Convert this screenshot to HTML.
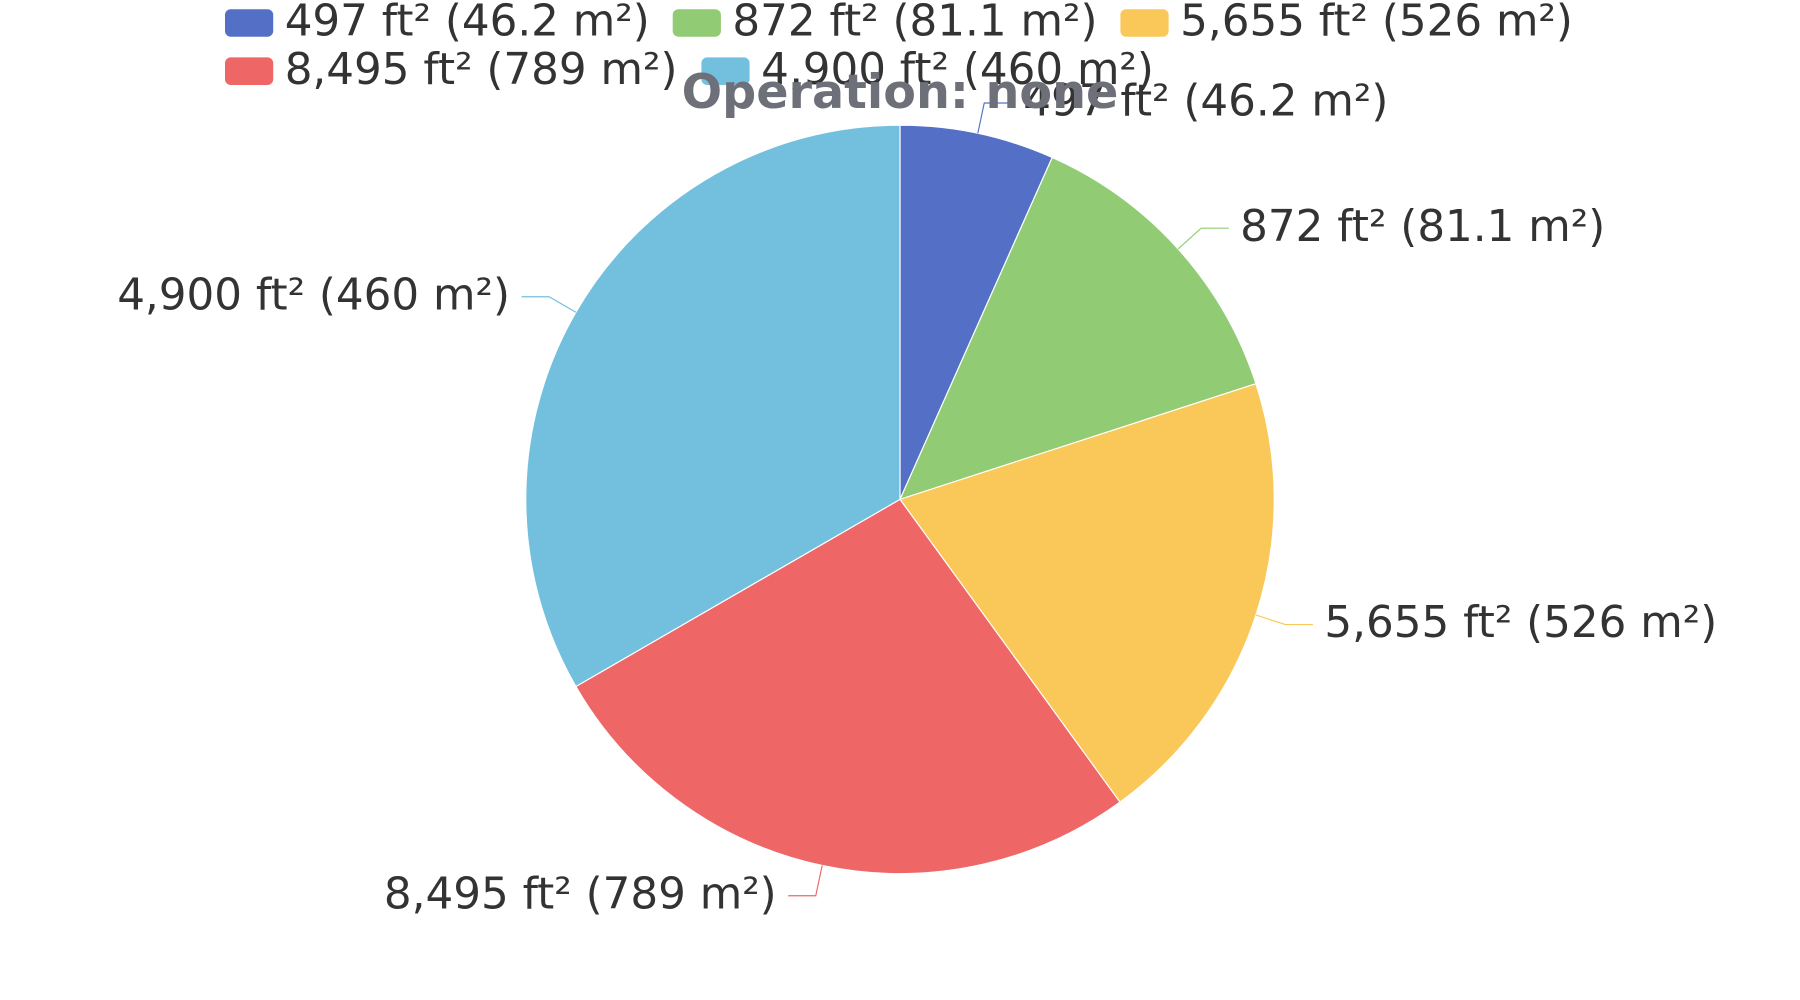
<!DOCTYPE html>
<html><head><meta charset="utf-8"><style>
html,body{margin:0;padding:0;background:#fff;width:1800px;height:1000px;overflow:hidden}
svg text{font-family:"DejaVu Sans","Liberation Sans",sans-serif}
</style></head><body>
<svg id="chart" width="1800" height="1000" viewBox="0 0 1568 871.1" xmlns="http://www.w3.org/2000/svg">
<g id="legend"></g>
<g id="slices"></g>
<g id="labels"></g>
<text x="784" y="94" text-anchor="middle" font-size="41.5" font-weight="bold" fill="#6e7079">Operation: none</text>
</svg>
<script>
const categories = ["497 ft² (46.2 m²)", "872 ft² (81.1 m²)", "5,655 ft² (526 m²)", "8,495 ft² (789 m²)", "4,900 ft² (460 m²)"];
const values = [1, 2, 3, 4, 5];
const colors = ["#5470c6", "#91cc75", "#fac858", "#ee6666", "#73c0de"];
const NS = "http://www.w3.org/2000/svg";
const cx = 784, cy = 435, r = 326;
function mk(tag, attrs, parent){const e=document.createElementNS(NS,tag);for(const k in attrs)e.setAttribute(k,attrs[k]);parent.appendChild(e);return e;}
function pt(a, rad){return [cx + rad*Math.sin(a), cy - rad*Math.cos(a)];}
const total = values.reduce((a,b)=>a+b,0);
const gS = document.getElementById('slices'), gL = document.getElementById('labels'), gLeg = document.getElementById('legend');
let start = 0;
values.forEach((v,i)=>{
  const ang = v/total*2*Math.PI, end = start+ang;
  const p0 = pt(start,r), p1 = pt(end,r);
  const large = ang>Math.PI?1:0;
  const path = mk('path',{d:`M${cx},${cy} L${p0[0]},${p0[1]} A${r},${r} 0 ${large} 1 ${p1[0]},${p1[1]} Z`,fill:colors[i],stroke:'#fff','stroke-width':1},gS);
  
  
  const mid = start+ang/2;
  const a = pt(mid,r), b = pt(mid,r+27);
  const right = Math.sin(mid) >= 0;
  const c = [b[0] + (right?24:-24), b[1]];
  const line = mk('polyline',{points:`${a[0]},${a[1]} ${b[0]},${b[1]} ${c[0]},${c[1]}`,fill:'none',stroke:colors[i],'stroke-width':1},gL);
  
  
  const t = mk('text',{x:c[0]+(right?10:-10),y:c[1]+11,'text-anchor':right?'start':'end','font-size':38,fill:'#333'},gL);
  t.textContent = categories[i];
  
  
  start = end;
});
const legPos = [[196,8],[586,8],[976,8],[196,50],[611,50]];
categories.forEach((c,i)=>{
  const g = mk('g',{},gLeg);
  
  
  const [x,y] = legPos[i];
  mk('rect',{x:x,y:y,width:42,height:24,rx:5,fill:colors[i]},g);
  const t = mk('text',{x:x+52,y:y+23,'font-size':38,fill:'#333'},g);
  t.textContent = c;
});
</script>
</body></html>
